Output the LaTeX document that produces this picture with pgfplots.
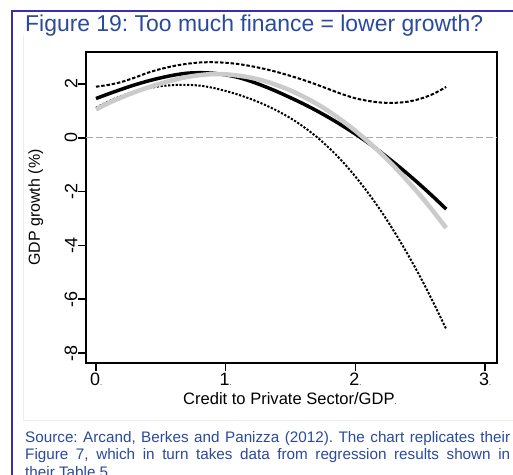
\documentclass[border=0pt]{standalone}
\usepackage{pgfplots}
\pgfplotsset{compat=1.18}
\usepackage{fontspec}
\setmainfont{Liberation Sans}
\frenchspacing
\definecolor{framecol}{HTML}{3B2EB6}
\definecolor{titlecol}{HTML}{2B4A9C}
\definecolor{fitgray}{HTML}{CBCBCB}
\definecolor{zerogray}{HTML}{A8A8A8}

% Growth effect of private credit: fitted curve, confidence bounds, alternative fit
\pgfplotstableread{
x    y
0.0  1.46
0.1  1.64
0.2  1.81
0.3  1.97
0.4  2.11
0.5  2.23
0.6  2.33
0.7  2.40
0.8  2.42
0.9  2.40
1.0  2.34
1.1  2.24
1.2  2.09
1.3  1.91
1.4  1.71
1.5  1.49
1.6  1.26
1.7  1.01
1.8  0.74
1.9  0.45
2.0  0.14
2.1  -0.19
2.2  -0.55
2.3  -0.93
2.4  -1.33
2.5  -1.75
2.6  -2.19
2.7  -2.65
}\fitblack

\pgfplotstableread{
x    y
0.0  1.06
0.1  1.30
0.2  1.51
0.3  1.70
0.4  1.87
0.5  2.02
0.6  2.15
0.7  2.26
0.8  2.33
0.9  2.37
1.0  2.36
1.1  2.31
1.2  2.23
1.3  2.11
1.4  1.95
1.5  1.76
1.6  1.53
1.7  1.27
1.8  0.97
1.9  0.63
2.0  0.26
2.1  -0.15
2.2  -0.59
2.3  -1.07
2.4  -1.59
2.5  -2.14
2.6  -2.73
2.7  -3.35
}\fitgray

\pgfplotstableread{
x    y
0.0  1.90
0.1  1.97
0.2  2.08
0.3  2.24
0.4  2.42
0.5  2.56
0.6  2.67
0.7  2.75
0.8  2.80
0.9  2.81
1.0  2.79
1.1  2.74
1.2  2.66
1.3  2.56
1.4  2.44
1.5  2.30
1.6  2.15
1.7  1.98
1.8  1.80
1.9  1.62
2.0  1.47
2.1  1.37
2.2  1.31
2.3  1.30
2.4  1.34
2.5  1.45
2.6  1.63
2.7  1.89
}\upperci

\pgfplotstableread{
x    y
0.0  1.12
0.1  1.36
0.2  1.56
0.3  1.72
0.4  1.84
0.5  1.92
0.6  1.96
0.7  1.97
0.8  1.94
0.9  1.86
1.0  1.74
1.1  1.60
1.2  1.43
1.3  1.23
1.4  1.00
1.5  0.73
1.6  0.41
1.7  0.04
1.8  -0.39
1.9  -0.88
2.0  -1.44
2.1  -2.06
2.2  -2.74
2.3  -3.49
2.4  -4.30
2.5  -5.17
2.6  -6.11
2.7  -7.11
}\lowerci

\begin{document}
\begin{tikzpicture}[x=1bp,y=1bp]
\clip (0,0) rectangle (513,475);
\fill[white] (0,0) rectangle (513,475);
% page frame
\draw[framecol, line width=2bp] (12,-5) -- (12,464) -- (520,464);
% faint outline of the graph region
\draw[black!7, line width=0.8bp] (23,440) -- (23,55) -- (520,55);

% title
\node[anchor=base west, inner sep=0, text=titlecol,
      font=\fontsize{23}{27}\selectfont] at (25,443) {Figure 19: Too much finance = lower growth?};

% source note
\node[anchor=north west, inner sep=0, text=titlecol, text width=485bp, align=justify,
      font=\fontsize{15.3}{17.6}\selectfont] at (25,44)
  {Source: Arcand, Berkes and Panizza (2012). The chart replicates their\linebreak
   Figure 7, which in turn takes data from regression results shown in\linebreak
   their Table 5.};

\begin{axis}[
  at={(86bp,112bp)}, anchor=south west,
  scale only axis, width=411bp, height=311bp,
  xmin=-0.077, xmax=3.092, ymin=-8.37, ymax=3.19,
  axis line style={line width=1.6bp},
  every tick/.style={black, line width=1.6bp},
  tick align=outside, major tick length=8bp,
  xtick pos=bottom, ytick pos=left,
  xtick={0,1,2,3},
  xticklabels={0{\fontsize{7}{7}\selectfont.},1{\fontsize{7}{7}\selectfont.},2{\fontsize{7}{7}\selectfont.},3{\fontsize{7}{7}\selectfont.}},
  ytick={-8,-6,-4,-2,0,2},
  yticklabels={-8,-6,-4,-2,0,2},
  tick label style={font=\fontsize{18}{18}\selectfont},
  xticklabel style={inner sep=2bp},
  yticklabel style={rotate=90, anchor=south, inner sep=0.5bp},
  xlabel={Credit to Private Sector/GDP{\fontsize{7}{7}\selectfont.}},
  ylabel={GDP growth (\%)},
  xlabel style={font=\fontsize{16.6}{16.6}\selectfont, at={(axis description cs:0.496,-0.135)}, anchor=base},
  ylabel style={font=\fontsize{16}{16}\selectfont, at={(axis description cs:-0.122,0.5)}, anchor=center},
]
\addplot[zerogray, line width=0.8bp, dash pattern=on 7bp off 3bp] coordinates {(-0.077,0) (3.092,0)};
\addplot[black, line width=2bp, smooth, dash pattern=on 3.5bp off 1.8bp] table[x=x,y=y] {\upperci};
\addplot[black, line width=2bp, smooth, dash pattern=on 2.2bp off 1.6bp] table[x=x,y=y] {\lowerci};
\addplot[black, line width=3.5bp, smooth] table[x=x,y=y] {\fitblack};
\addplot[fitgray, line width=4.5bp, smooth] table[x=x,y=y] {\fitgray};
\end{axis}
\end{tikzpicture}
\end{document}
